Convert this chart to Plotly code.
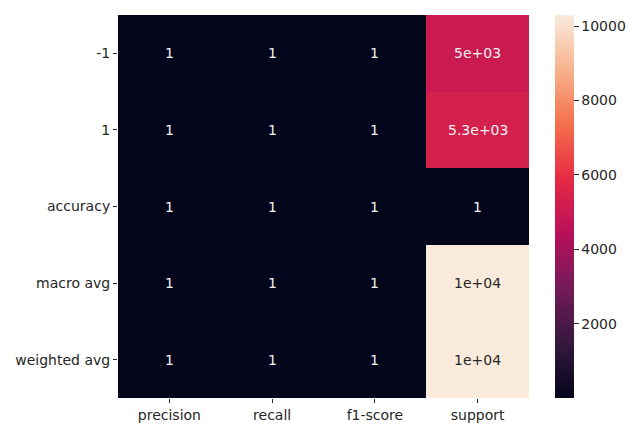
import plotly.graph_objects as go

rows = ["-1", "1", "accuracy", "macro avg", "weighted avg"]
cols = ["precision", "recall", "f1-score", "support"]
precision = [1.0, 1.0, 1.0, 1.0, 1.0]
recall = [1.0, 1.0, 1.0, 1.0, 1.0]
f1_score = [1.0, 1.0, 1.0, 1.0, 1.0]
support = [4998, 5302, 1.0, 10300, 10300]
cbar_ticks = [2000, 4000, 6000, 8000, 10000]

z = [[precision[i], recall[i], f1_score[i], support[i]] for i in range(len(rows))]
zmin = min(min(r) for r in z)
zmax = max(max(r) for r in z)

rocket = [
    [0.0, "#03051a"],
    [1/7, "#35193e"],
    [2/7, "#731a58"],
    [3/7, "#b8105a"],
    [4/7, "#e62a44"],
    [5/7, "#f5704c"],
    [6/7, "#f7b28c"],
    [1.0, "#faebdd"],
]

FONT = "DejaVu Sans"
TXT = "#262626"

fig = go.Figure(go.Heatmap(
    z=z, x=cols, y=rows, colorscale=rocket, zmin=zmin, zmax=zmax,
    hoverinfo="skip",
    colorbar=dict(
        x=1.063, xanchor="left", y=0.5, yanchor="middle", len=1.0,
        thickness=19, outlinewidth=0, xpad=0, ypad=0,
        tickvals=cbar_ticks, tickformat="d",
        ticks="outside", ticklen=5, tickcolor=TXT,
        tickfont=dict(family=FONT, size=14, color=TXT),
    ),
))

annotations = []
for i, r in enumerate(rows):
    for j, c in enumerate(cols):
        v = z[i][j]
        frac = (v - zmin) / (zmax - zmin)
        color = TXT if frac > 0.6 else "#f2f2f2"
        annotations.append(dict(
            x=j, y=i, xref="x", yref="y", text=format(v, ".2g"), showarrow=False,
            font=dict(family=FONT, size=14, color=color),
        ))

fig.update_layout(
    width=629, height=425,
    margin=dict(l=118, r=100, t=15, b=27, autoexpand=False),
    paper_bgcolor="white", plot_bgcolor="white",
    annotations=annotations,
    xaxis=dict(type="category", showgrid=False, zeroline=False, ticks="outside",
               ticklen=4, tickcolor=TXT, automargin=False,
               tickfont=dict(family=FONT, size=14, color=TXT)),
    yaxis=dict(type="category", autorange="reversed", showgrid=False, zeroline=False,
               ticks="outside", ticklen=4, tickcolor=TXT, automargin=False,
               tickfont=dict(family=FONT, size=14, color=TXT)),
)

fig.write_html("out.html", config={"displayModeBar": False},
               post_script="document.body.style.margin='0';document.body.style.overflow='hidden';")
